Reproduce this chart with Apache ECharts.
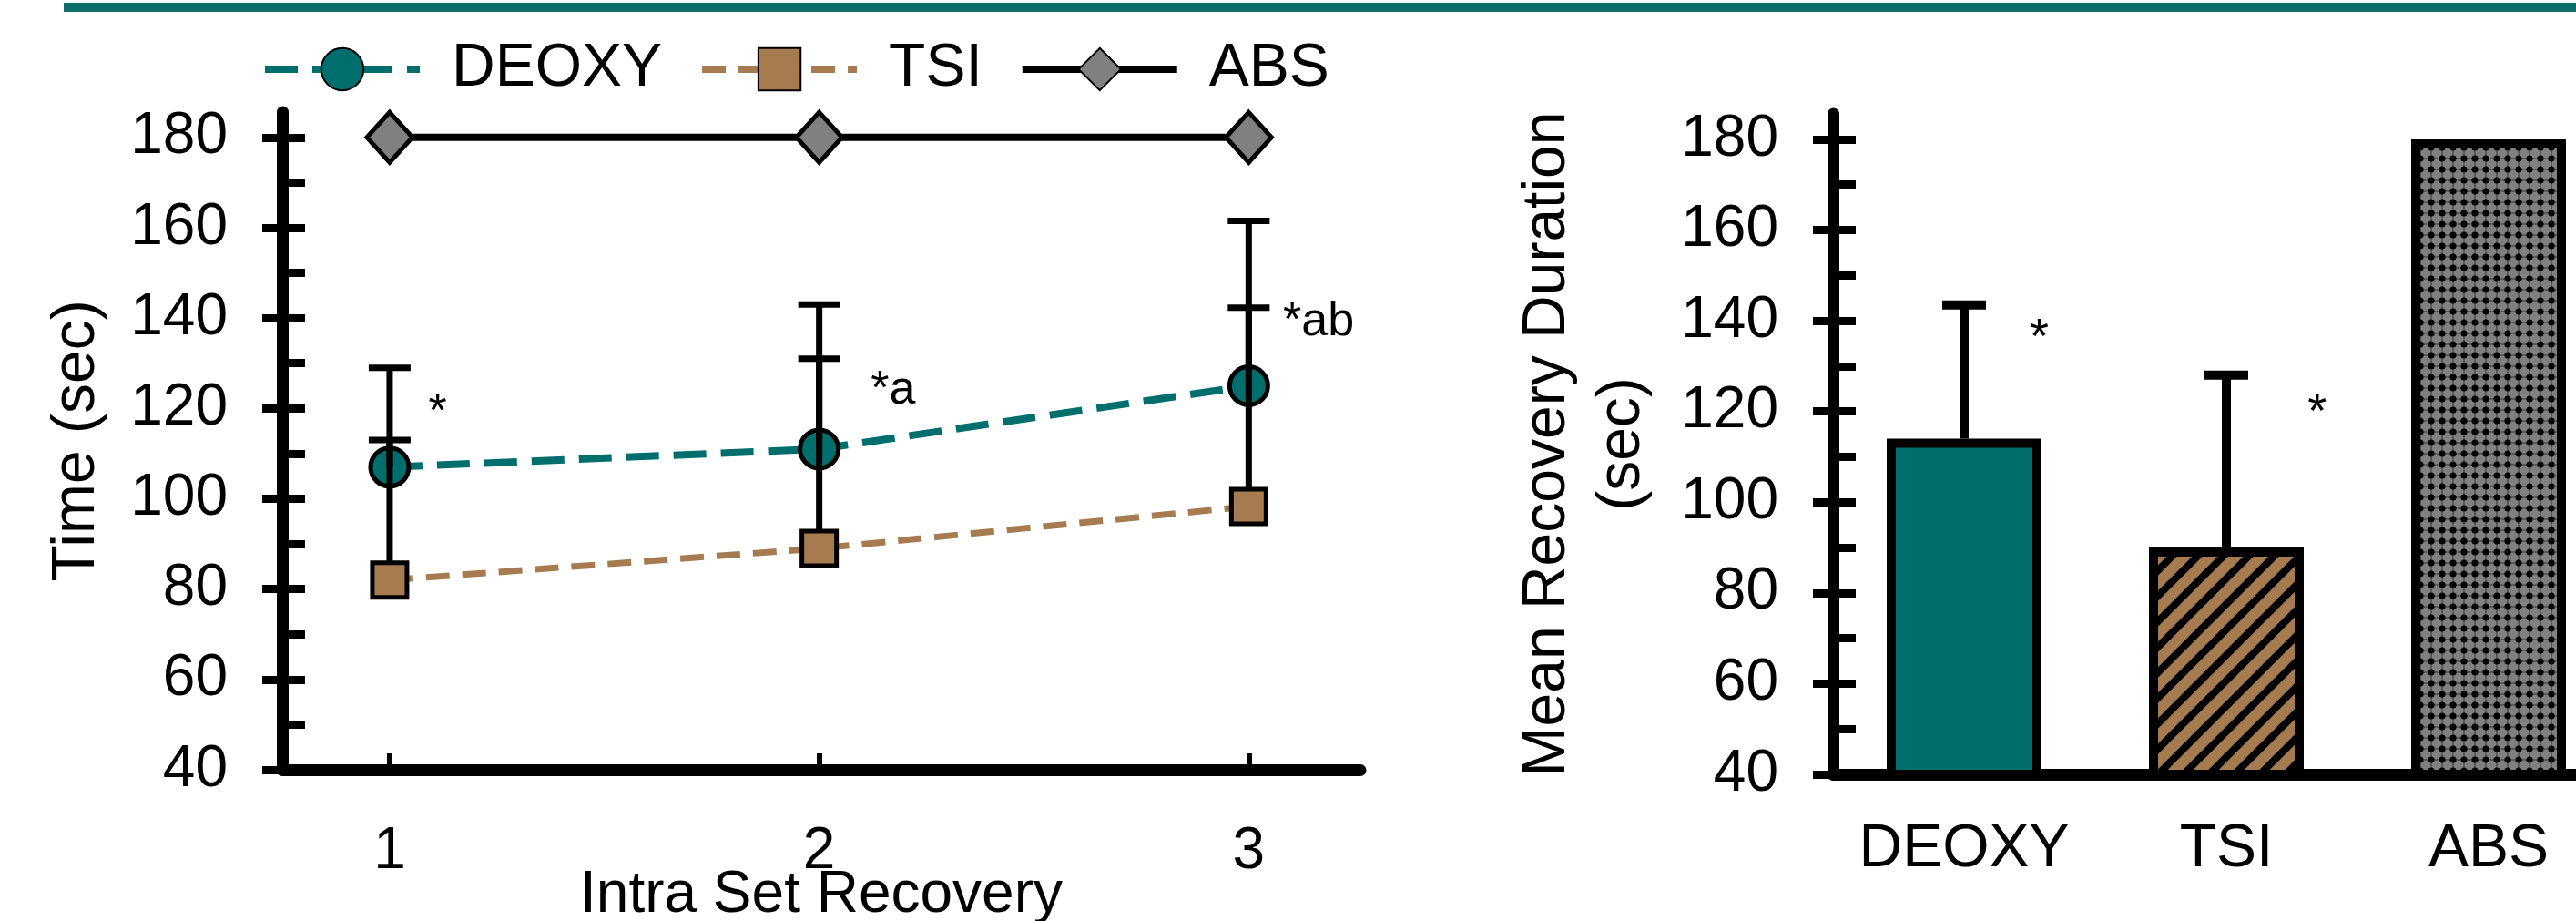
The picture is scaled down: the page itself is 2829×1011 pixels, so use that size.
<!DOCTYPE html>
<html>
<head>
<meta charset="utf-8">
<title>Recovery duration</title>
<script src="https://cdn.jsdelivr.net/npm/echarts@6/dist/echarts.min.js"></script>
<style>
  html, body { margin: 0; padding: 0; background: #fff; }
  #chart { width: 2829px; height: 1011px; }
</style>
</head>
<body>
<div id="chart"></div>
<script>
// left panel: time per intra set recovery
var recoveryTicks = [1, 2, 3];
var deoxyTime = [107, 111, 125];
var deoxySD = [22, 32, 36.5];
var tsiTime = [82, 89, 98.3];
var tsiSD = [31, 42, 44];
var absTime = [180, 180, 180];
var lineNotes = ['*', '*a', '*ab'];
var lineNoteX = [1.09, 2.12, 3.08];
var lineNoteY = [119, 124, 139];

// right panel: mean recovery duration
var barCats = ['DEOXY', 'TSI', 'ABS'];
var barMeans = [114, 90, 180];
var barSD = [29.5, 38, 0];
var barNotes = ['*', '*', ''];
var barNoteDx = [0.25, 0.31, 0];
var barNoteY = [136, 119.5, 0];

// shared y axis ticks
var yMajorTicks = [40, 60, 80, 100, 120, 140, 160, 180];
var yMinorTicks = [40, 50, 60, 70, 80, 90, 100, 110, 120, 130, 140, 150, 160, 170, 180];

var TEAL = '#006e6c';
var TAN = '#a67b50';
var GREY = '#808080';
var FONT = 'Liberation Sans, Arial, sans-serif';

// tan with black "/" stripes
function makeHatch() {
    var c = document.createElement('canvas');
    c.width = 28; c.height = 28;
    var g = c.getContext('2d');
    g.fillStyle = TAN;
    g.fillRect(0, 0, 28, 28);
    g.strokeStyle = '#000';
    g.lineWidth = 8;
    g.beginPath();
    g.moveTo(-7, 35); g.lineTo(35, -7);
    g.moveTo(-7, 7); g.lineTo(7, -7);
    g.moveTo(21, 35); g.lineTo(35, 21);
    g.stroke();
    return c;
}
// grey with black dot grid
function makeDots() {
    var c = document.createElement('canvas');
    c.width = 12; c.height = 12;
    var g = c.getContext('2d');
    g.fillStyle = GREY;
    g.fillRect(0, 0, 12, 12);
    g.strokeStyle = '#333';
    g.lineWidth = 1;
    g.beginPath();
    g.moveTo(0, 6); g.lineTo(12, 6);
    g.moveTo(6, 0); g.lineTo(6, 12);
    g.stroke();
    g.fillStyle = '#000';
    g.beginPath();
    g.arc(6, 6, 3.6, 0, Math.PI * 2);
    g.fill();
    return c;
}
var barFills = [TEAL, { image: makeHatch(), repeat: 'repeat' }, { image: makeDots(), repeat: 'repeat' }];

function zip(a, b, c) {
    return a.map(function (v, i) { return c ? [v, b[i], c[i]] : [v, b[i]]; });
}

function errorBar(capWidth, lineWidth) {
    return function (params, api) {
        var sd = api.value(2);
        if (!sd) return;
        var base = api.coord([api.value(0), api.value(1)]);
        var top = api.coord([api.value(0), api.value(1) + sd]);
        var style = { stroke: '#000', lineWidth: lineWidth };
        return {
            type: 'group',
            children: [
                { type: 'line', shape: { x1: base[0], y1: base[1], x2: top[0], y2: top[1] }, style: style },
                { type: 'line', shape: { x1: top[0] - capWidth / 2, y1: top[1], x2: top[0] + capWidth / 2, y2: top[1] }, style: style }
            ]
        };
    };
}

function valueAxis(gridIndex, withLabels) {
    var ax = {
        type: 'value',
        gridIndex: gridIndex,
        position: 'left',
        min: 40,
        max: 185.6,
        splitLine: { show: false },
        axisLine: { show: withLabels, onZero: false, lineStyle: { color: '#000', width: 13, cap: 'round' } },
        axisTick: {
            show: true,
            inside: !withLabels,
            length: withLabels ? 22 : 25,
            customValues: withLabels ? yMajorTicks : yMinorTicks,
            lineStyle: { color: '#000', width: 9 }
        },
        axisLabel: {
            show: withLabels,
            customValues: yMajorTicks,
            margin: 60,
            color: '#000',
            fontSize: 64,
            fontFamily: FONT
        }
    };
    return ax;
}

var yLeft = valueAxis(0, true);
yLeft.name = 'Time (sec)';
yLeft.nameLocation = 'middle';
yLeft.nameRotate = 90;
yLeft.nameGap = 192;
yLeft.nameMoveOverlap = false;
yLeft.nameTextStyle = { fontSize: 66, fontFamily: FONT, color: '#000' };

var yRight = valueAxis(1, true);
yRight.name = 'Mean Recovery Duration\n(sec)';
yRight.nameLocation = 'middle';
yRight.nameRotate = 90;
yRight.nameGap = 190;
yRight.nameMoveOverlap = false;
yRight.nameTextStyle = { fontSize: 66, lineHeight: 82, fontFamily: FONT, color: '#000', align: 'center' };

var chart = echarts.init(document.getElementById('chart'));
chart.setOption({
    animation: false,
    backgroundColor: '#fff',
    textStyle: { fontFamily: FONT },
    graphic: [{
        type: 'rect',
        left: 70,
        top: 3,
        shape: { width: 2770, height: 10 },
        style: { fill: '#0e6e6c' }
    }],
    legend: {
        data: ['DEOXY', 'TSI', 'ABS'],
        left: 282,
        top: 38,
        itemWidth: 170,
        itemHeight: 58,
        itemGap: 40,
        selectedMode: false,
        lineStyle: { width: 8 },
        textStyle: { fontSize: 66, color: '#000', fontFamily: FONT, padding: [0, 0, 0, 30] }
    },
    grid: [
        { left: 310, top: 123, width: 1184, height: 722, containLabel: false, outerBoundsMode: 'none' },
        { left: 2013, top: 125, width: 864, height: 725, containLabel: false, outerBoundsMode: 'none' }
    ],
    xAxis: [
        {
            type: 'value',
            gridIndex: 0,
            min: 0.75,
            max: 3.26,
            splitLine: { show: false },
            axisLine: { onZero: false, lineStyle: { color: '#000', width: 13, cap: 'round' } },
            axisTick: { inside: true, length: 18, customValues: recoveryTicks, lineStyle: { color: '#000', width: 6 } },
            axisLabel: { customValues: recoveryTicks, margin: 58, color: '#000', fontSize: 64, fontFamily: FONT },
            name: 'Intra Set Recovery',
            nameLocation: 'middle',
            nameGap: 106,
            nameMoveOverlap: false,
            nameTextStyle: { fontSize: 64, fontFamily: FONT, color: '#000' }
        },
        {
            type: 'category',
            gridIndex: 1,
            data: barCats,
            axisLine: { onZero: false, lineStyle: { color: '#000', width: 13 } },
            axisTick: { show: false },
            axisLabel: { interval: 0, margin: 50, color: '#000', fontSize: 66, fontFamily: FONT }
        }
    ],
    yAxis: [yLeft, valueAxis(0, false), yRight, valueAxis(1, false)],
    series: [
        {
            name: 'DEOXY',
            type: 'line',
            xAxisIndex: 0,
            yAxisIndex: 0,
            z: 2,
            data: zip(recoveryTicks, deoxyTime),
            symbol: 'circle',
            symbolSize: 42,
            itemStyle: { color: TEAL, borderColor: '#000', borderWidth: 5 },
            lineStyle: { color: TEAL, width: 8, type: [36, 16] }
        },
        {
            name: 'DEOXY sd',
            type: 'custom',
            xAxisIndex: 0,
            yAxisIndex: 0,
            z: 3,
            renderItem: errorBar(46, 7),
            data: zip(recoveryTicks, deoxyTime, deoxySD)
        },
        {
            name: 'TSI sd',
            type: 'custom',
            xAxisIndex: 0,
            yAxisIndex: 0,
            z: 3,
            renderItem: errorBar(46, 7),
            data: zip(recoveryTicks, tsiTime, tsiSD)
        },
        {
            name: 'TSI',
            type: 'line',
            xAxisIndex: 0,
            yAxisIndex: 0,
            z: 4,
            data: zip(recoveryTicks, tsiTime),
            symbol: 'rect',
            symbolSize: 38,
            itemStyle: { color: TAN, borderColor: '#000', borderWidth: 5 },
            lineStyle: { color: TAN, width: 7, type: [26, 14] }
        },
        {
            name: 'ABS',
            type: 'line',
            xAxisIndex: 0,
            yAxisIndex: 0,
            z: 4,
            data: zip(recoveryTicks, absTime),
            symbol: 'diamond',
            symbolSize: [50, 55],
            itemStyle: { color: GREY, borderColor: '#000', borderWidth: 5 },
            lineStyle: { color: '#000', width: 8, type: 'solid' }
        },
        {
            name: 'line notes',
            type: 'custom',
            xAxisIndex: 0,
            yAxisIndex: 0,
            z: 5,
            data: zip(lineNoteX, lineNoteY),
            renderItem: function (params, api) {
                var p = api.coord([api.value(0), api.value(1)]);
                return {
                    type: 'text',
                    x: p[0],
                    y: p[1],
                    style: { text: lineNotes[params.dataIndex], font: '52px ' + FONT, fill: '#000', align: 'left', verticalAlign: 'middle' }
                };
            }
        },
        {
            name: 'Mean Recovery',
            type: 'bar',
            xAxisIndex: 1,
            yAxisIndex: 2,
            z: 2,
            barWidth: 170,
            data: barMeans.map(function (v, i) {
                return { value: v, itemStyle: { color: barFills[i] } };
            }),
            itemStyle: { borderColor: '#000', borderWidth: 10 },
            emphasis: { disabled: true }
        },
        {
            name: 'Mean sd',
            type: 'custom',
            xAxisIndex: 1,
            yAxisIndex: 2,
            z: 3,
            renderItem: errorBar(48, 10),
            data: zip(barCats, barMeans, barSD)
        },
        {
            name: 'bar notes',
            type: 'custom',
            xAxisIndex: 1,
            yAxisIndex: 2,
            z: 5,
            data: zip(barCats, barNoteY, barNoteDx),
            renderItem: function (params, api) {
                var txt = barNotes[params.dataIndex];
                if (!txt) return;
                var p = api.coord([api.value(0), api.value(1)]);
                var band = api.size([1, 0])[0];
                return {
                    type: 'text',
                    x: p[0] + api.value(2) * band,
                    y: p[1],
                    style: { text: txt, font: '54px ' + FONT, fill: '#000', align: 'left', verticalAlign: 'middle' }
                };
            }
        }
    ]
});
</script>
</body>
</html>
